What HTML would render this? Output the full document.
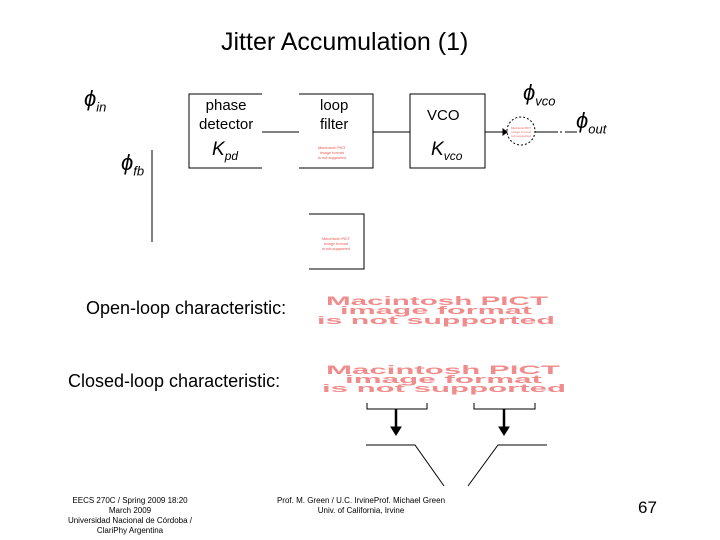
<!DOCTYPE html><html><head><style>
body{margin:0;width:720px;height:540px;background:#fff;position:relative;font-family:"Liberation Sans",sans-serif;overflow:hidden}
.t{position:absolute;white-space:nowrap;color:#000}
</style></head><body>
<div class="t" style="left:221px;top:28px;font-size:25px">Jitter Accumulation (1)</div>
<div class="t" style="left:84px;top:86px;font-size:22px;font-style:italic">ϕ<sub style="font-size:13px">in</sub></div>
<div class="t" style="left:121px;top:150px;font-size:22px;font-style:italic">ϕ<sub style="font-size:13px">fb</sub></div>
<div class="t" style="left:523px;top:80px;font-size:22px;font-style:italic">ϕ<sub style="font-size:13px">vco</sub></div>
<div class="t" style="left:576px;top:108px;font-size:22px;font-style:italic">ϕ<sub style="font-size:13px">out</sub></div>
<div class="t" style="left:199px;top:96px;font-size:15px;text-align:center;line-height:19px">phase<br>detector</div>
<div class="t" style="left:212px;top:139px;font-size:19px;font-style:italic">K<sub style="font-size:12px">pd</sub></div>
<div class="t" style="left:320px;top:96px;font-size:15px;text-align:center;line-height:19px">loop<br>filter</div>
<div class="t" style="left:427px;top:107px;font-size:15px">VCO</div>
<div class="t" style="left:431px;top:139px;font-size:19px;font-style:italic">K<sub style="font-size:12px">vco</sub></div>
<svg width="720" height="540" style="position:absolute;left:0;top:0" fill="none" stroke="#000" stroke-width="1">
<path d="M262 94H189V168H262M262 132H299M299 94H373V168H299M373 132H410M410 94H485V168H410ZM485 132H503"/>
<path d="M503 129L507 132L503 135Z" fill="#000"/>
<circle cx="521" cy="131" r="14" stroke-dasharray="2 2"/>
<path d="M535 132H558M560 132H562M565 132H577M152 150V242M309 214H364V269H309"/>
<path d="M367 403V409H427V403M474 403V409H535V403M366 445H415L444 486M468 486L498 445H547"/>
<path d="M396 409V428M504 409V428" stroke-width="2.5"/>
<path d="M391 427H401L396 435ZM499 427H509L504 435Z" fill="#000"/>
<g fill="#f08c8c" stroke="none" font-family="Liberation Sans" font-weight="bold">
<text x="326" y="305" font-size="12" textLength="222" lengthAdjust="spacingAndGlyphs">Macintosh PICT</text>
<text x="340" y="314" font-size="11" textLength="192" lengthAdjust="spacingAndGlyphs">image format</text>
<text x="317" y="324" font-size="11" textLength="238" lengthAdjust="spacingAndGlyphs">is not supported</text>
<text x="326" y="374" font-size="12" textLength="234" lengthAdjust="spacingAndGlyphs">Macintosh PICT</text>
<text x="345" y="383" font-size="11" textLength="197" lengthAdjust="spacingAndGlyphs">image format</text>
<text x="322" y="392" font-size="11" textLength="244" lengthAdjust="spacingAndGlyphs">is not supported</text>
<text x="318" y="149" font-size="4" textLength="28">Macintosh PICT</text>
<text x="320" y="154" font-size="4" textLength="24">image format</text>
<text x="318" y="159" font-size="4" textLength="28">is not supported</text>
<text x="322" y="240" font-size="4" textLength="28">Macintosh PICT</text>
<text x="324" y="245" font-size="4" textLength="24">image format</text>
<text x="322" y="250" font-size="4" textLength="28">is not supported</text>
<text x="511" y="129" font-size="3" textLength="20">Macintosh PICT</text>
<text x="511" y="133" font-size="3" textLength="20">image format</text>
<text x="511" y="137" font-size="3" textLength="20">not supported</text>
</g>
</svg>
<div class="t" style="left:86px;top:298px;font-size:18px">Open-loop characteristic:</div>
<div class="t" style="left:68px;top:371px;font-size:18px">Closed-loop characteristic:</div>
<div class="t" style="left:60px;top:496px;font-size:8px;text-align:center;line-height:10px;width:140px">EECS 270C / Spring 2009 18:20<br>March 2009<br>Universidad Nacional de Córdoba /<br>ClariPhy Argentina</div>
<div class="t" style="left:276px;top:496px;font-size:8px;text-align:center;line-height:10px;width:170px">Prof. M. Green / U.C. IrvineProf. Michael Green<br>Univ. of California, Irvine</div>
<div class="t" style="left:638px;top:498px;font-size:17px">67</div>
</body></html>
